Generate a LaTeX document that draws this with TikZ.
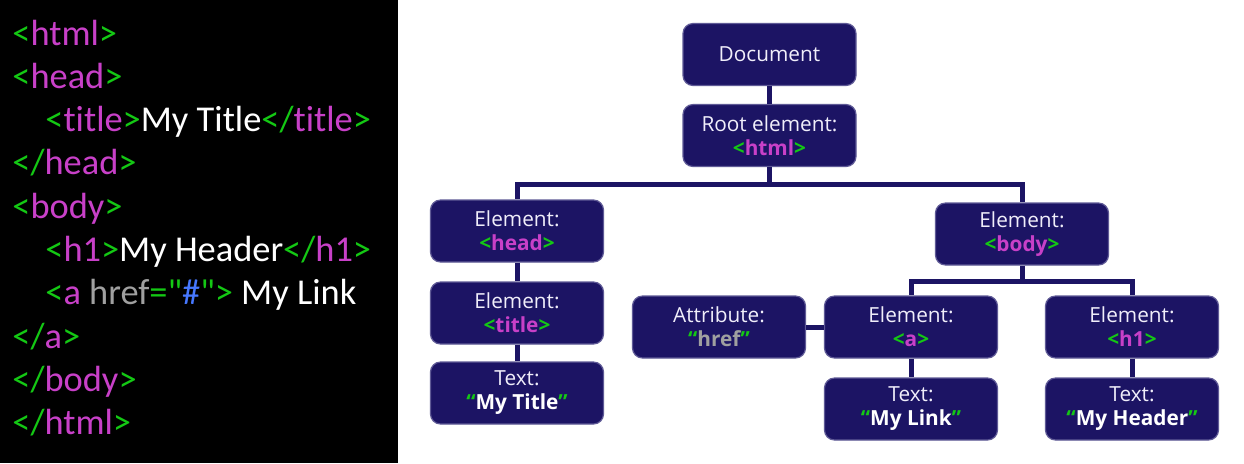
\documentclass[tikz,border=0pt]{standalone}
\usepackage{fontspec}
\setmainfont{Open Sans}
\newfontfamily\codefont[Ligatures=NoCommon]{Carlito}
\usetikzlibrary{positioning}
\definecolor{boxfill}{RGB}{28,20,100}
\definecolor{boxline}{RGB}{95,90,150}
\definecolor{boxtext}{RGB}{240,238,250}
\definecolor{taggreen}{RGB}{20,200,20}
\definecolor{tagpink}{RGB}{200,64,200}
\definecolor{attrgray}{RGB}{160,160,160}
\definecolor{hashblue}{RGB}{70,120,255}
% code colouring
\newcommand\cg[1]{\textcolor{taggreen}{#1}}
\newcommand\cm[1]{\textcolor{tagpink}{#1}}
\newcommand\ot[1]{\cg{<}\cm{#1}\cg{>}}
\newcommand\ct[1]{\cg{</}\cm{#1}\cg{>}}
\newcommand\qt[1]{\cg{“}#1\cg{”}}
\tikzset{
  domnode/.style={draw=boxline, line width=0.6pt, fill=boxfill, rounded corners=5pt,
    minimum width=86.5pt, minimum height=31pt, inner sep=0pt, align=center,
    text=boxtext, font=\fontsize{10.4}{12}\selectfont},
  link/.style={draw=boxfill, line width=2.5pt},
  codeline/.style={anchor=base west, inner sep=0pt, text=white,
    font=\codefont\fontsize{18.2}{20}\selectfont}
}
\begin{document}
\begin{tikzpicture}[x=0.5pt,y=-0.5pt]
  \useasboundingbox (0,0) rectangle (1244,463);
  \fill[white] (0,0) rectangle (1244,463);
  \fill[black] (0,0) rectangle (398,463);
  % source listing
  \foreach \x/\txt [count=\i from 0] in {
    12/{\ot{html}}, 12/{\ot{head}}, 45/{\ot{title}My Title\ct{title}},
    12/{\ct{head}}, 12/{\ot{body}}, 45/{\ot{h1}My Header\ct{h1}},
    45/{\cg{<}\cm{a}\ \textcolor{attrgray}{href}\cg{="}\textcolor{hashblue}{\#}\cg{">}\ My Link},
    12/{\ct{a}}, 12/{\ct{body}}, 12/{\ct{html}}}
    \node[codeline] (code\i) at (\x,45+43.3*\i) {\txt};
  % DOM tree
  \node[domnode] (doc) at (769.5,54.5) {Document};
  \node[domnode] (root) at (769.5,135.5) {Root element:\\\textbf{\ot{html}}};
  \node[domnode] (head) at (517,231) {Element:\\\textbf{\ot{head}}};
  \node[domnode] (title) at (517,313) {Element:\\\textbf{\ot{title}}};
  \node[domnode] (ttext) at (517,393) {Text:\\\textbf{\qt{\textcolor{white}{My Title}}}};
  \node[domnode] (body) at (1022,234) {Element:\\\textbf{\ot{body}}};
  \node[domnode] (attr) at (719,327) {Attribute:\\\textbf{\qt{\textcolor{attrgray}{href}}}};
  \node[domnode] (anode) at (911,327) {Element:\\\textbf{\ot{a}}};
  \node[domnode] (h1) at (1132,327) {Element:\\\textbf{\ot{h1}}};
  \node[domnode] (atext) at (911,409) {Text:\\\textbf{\qt{\textcolor{white}{My Link}}}};
  \node[domnode] (htext) at (1132,409) {Text:\\\textbf{\qt{\textcolor{white}{My Header}}}};
  % connectors
  \coordinate (bus1) at (769.5,184);
  \coordinate (bus2) at (1022,281);
  \draw[link] (doc) -- (root);
  \draw[link] (root) -- (bus1) -| (head.north);
  \draw[link] (bus1) -| (body.north);
  \draw[link] (head) -- (title);
  \draw[link] (title) -- (ttext);
  \draw[link] (body) -- (bus2) -| (anode.north);
  \draw[link] (bus2) -| (h1.north);
  \draw[link] (attr) -- (anode);
  \draw[link] (anode) -- (atext);
  \draw[link] (h1) -- (htext);
\end{tikzpicture}
\end{document}
